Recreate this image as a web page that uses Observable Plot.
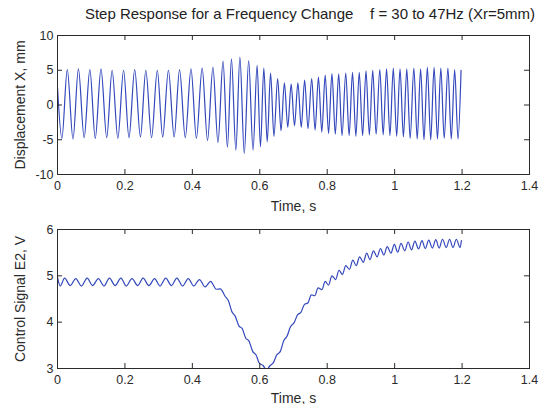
<!DOCTYPE html>
<html><head><meta charset="utf-8">
<script src="https://cdn.jsdelivr.net/npm/d3@7"></script>
<script src="https://cdn.jsdelivr.net/npm/@observablehq/plot@0.6"></script>
<style>
body{margin:0;background:#fff;overflow:hidden;font-family:"Liberation Sans",Arial,sans-serif;}
#title{height:25px;line-height:27px;font-size:15px;color:#222;white-space:pre;text-align:center;padding-left:76px;}
svg{display:block;}
</style></head><body>
<div id="title"></div>
<div id="chart"></div>
<script>
// Top: displacement extremes (time s, value mm)
const dispT = [0.000,0.013,0.029,0.046,0.062,0.079,0.096,0.112,0.129,0.146,0.162,0.179,0.196,0.212,0.229,0.246,0.262,0.279,0.296,0.312,0.329,0.346,0.362,0.379,0.396,0.412,0.429,0.445,0.461,0.476,
 0.491,0.504,0.516,0.529,0.541,0.554,0.567,0.580,0.592,
 0.602,0.612,0.622,0.632,0.642,0.653,0.663,0.673,0.683,0.693,0.703,0.713,0.723,0.733,0.743,0.754,0.764,0.774,0.784,0.794,0.804,0.814,0.824,0.834,0.844,0.855,0.865,0.875,0.885,0.895,0.905,0.915,0.925,0.935,0.945,0.956,0.966,0.976,0.986,0.996,1.006,1.016,1.026,1.036,1.046,1.057,1.067,1.077,1.087,1.097,1.107,1.117,1.127,1.137,1.147,1.158,1.168,1.178,1.188,1.197];
const dispX = [2.5,-4.8,5.1,-4.9,5.2,-4.7,5.1,-4.8,5.2,-4.7,5.0,-4.8,5.0,-4.7,5.1,-4.6,5.0,-4.7,5.0,-4.6,5.0,-4.6,5.1,-4.7,5.2,-4.8,5.3,-5.1,5.4,-5.4,
 6.3,-6.1,6.65,-6.5,6.9,-7.0,6.4,-6.5,5.7,
 -6.0,5.3,-5.3,4.6,-4.5,3.8,-3.7,3.2,-3.2,3.0,-3.0,3.2,-3.2,3.6,-3.4,3.8,-3.6,4.0,-3.9,4.3,-4.1,4.5,-4.2,4.5,-4.4,4.6,-4.4,4.7,-4.5,4.7,-4.4,4.9,-4.3,5.0,-4.2,5.1,-4.3,5.2,-4.4,5.3,-4.5,5.2,-4.6,5.2,-4.8,5.3,-4.9,5.2,-5.0,5.4,-5.0,5.4,-4.9,5.3,-4.8,5.3,-4.9,5.1,-4.9,5.0];

// Bottom: control signal extremes (time s, value V)
const ctrlT = [0.000,0.008,0.021,0.038,0.054,0.071,0.088,0.104,0.121,0.138,0.154,0.171,0.188,0.204,0.221,0.238,0.254,0.271,0.288,0.304,0.321,0.338,0.354,0.371,0.388,0.404,0.421,0.438,0.454,0.471,0.483,
 0.497,0.507,0.517,0.527,0.538,0.548,0.558,0.568,0.579,0.589,0.599,0.609,0.620,0.630,0.640,0.650,0.661,0.671,0.681,0.691,0.702,0.712,0.722,0.732,0.743,0.753,0.763,0.773,0.784,0.794,0.804,0.814,0.825,0.835,0.845,0.855,0.866,0.876,0.886,0.896,0.907,0.917,0.927,0.937,0.948,0.958,0.968,0.978,0.989,0.999,1.009,1.019,1.030,1.040,1.050,1.060,1.071,1.081,1.091,1.101,1.112,1.122,1.132,1.142,1.153,1.163,1.173,1.183,1.194,1.198];
const ctrlV = [4.97,4.78,4.95,4.79,4.94,4.78,4.95,4.79,4.94,4.78,4.95,4.79,4.95,4.78,4.94,4.79,4.95,4.79,4.94,4.78,4.95,4.79,4.95,4.78,4.94,4.78,4.92,4.76,4.88,4.71,4.72,
 4.56,4.46,4.23,4.13,3.92,3.86,3.66,3.59,3.37,3.29,3.11,3.07,2.97,3.06,3.12,3.29,3.37,3.60,3.70,3.90,3.99,4.16,4.21,4.38,4.42,4.59,4.57,4.74,4.70,4.88,4.80,5.00,4.92,5.12,5.03,5.22,5.14,5.34,5.22,5.41,5.29,5.49,5.35,5.54,5.41,5.59,5.45,5.63,5.49,5.68,5.51,5.70,5.54,5.73,5.56,5.75,5.58,5.76,5.59,5.77,5.60,5.78,5.60,5.79,5.61,5.79,5.61,5.79,5.61,5.76];

const xTicks = [0,0.2,0.4,0.6,0.8,1,1.2,1.4];
const topYTicks = [-10,-5,0,5,10];
const botYTicks = [3,4,5,6];
const title = "Step Response for a Frequency Change    f = 30 to 47Hz (Xr=5mm)";
const xLabel = "Time, s";
const topYLabel = "Displacement X, mm";
const botYLabel = "Control Signal E2, V";

const blue = "#3448bc";
const ink = "#2a2a2a";
const W = 544, ML = 57, MR = 15;
const FH = 139; // frame height in px
const FW = W - ML - MR;
const inner = (arr) => arr.slice(1, -1);

const topData = dispT.map((t, i) => ({t, v: dispX[i]}));
const botData = ctrlT.map((t, i) => ({t, v: ctrlV[i]}));

function panel(data, yDomain, yTicks, yLabel, mt, mb, xOff) {
  return Plot.plot({
    width: W, height: mt + FH + mb,
    marginLeft: ML, marginRight: MR, marginTop: mt, marginBottom: mb,
    style: {fontFamily: "'Liberation Sans', Arial, sans-serif", fontSize: "12.5px", color: ink, background: "#fff"},
    x: {domain: [0, 1.4], label: null},
    y: {domain: yDomain, label: null},
    marks: [
      Plot.line(data, {x: "t", y: "v", curve: "monotone-x", stroke: blue, strokeWidth: 1.2, clip: true}),
      Plot.tickX(inner(xTicks), {x: d => d, insetTop: FH - 5, stroke: ink}),
      Plot.tickX(inner(xTicks), {x: d => d, insetBottom: FH - 5, stroke: ink}),
      Plot.tickY(inner(yTicks), {y: d => d, insetRight: FW - 5, stroke: ink}),
      Plot.tickY(inner(yTicks), {y: d => d, insetLeft: FW - 5, stroke: ink}),
      Plot.frame({stroke: ink, strokeWidth: 1}),
      Plot.axisX(xTicks, {tickSize: 0, tickPadding: 7, tickFormat: d => String(d), fill: ink, fontSize: 12.5}),
      Plot.axisX({ticks: [], tickSize: 0, label: xLabel, labelAnchor: "center", labelArrow: false, labelOffset: xOff, fontSize: 14, fill: ink}),
      Plot.axisY(yTicks, {tickSize: 0, tickPadding: 4, tickFormat: d => String(d), fill: ink, fontSize: 12.5}),
      Plot.axisY({ticks: [], tickSize: 0, label: yLabel, labelAnchor: "center", labelArrow: false, labelOffset: 42, fontSize: 14, fill: ink})
    ]
  });
}

document.getElementById("title").textContent = title;
const chart = document.getElementById("chart");
chart.append(panel(topData, [-10, 10], topYTicks, topYLabel, 10, 40, 36));
chart.append(panel(botData, [3, 6], botYTicks, botYLabel, 15, 36, 34));
</script>
</body></html>
